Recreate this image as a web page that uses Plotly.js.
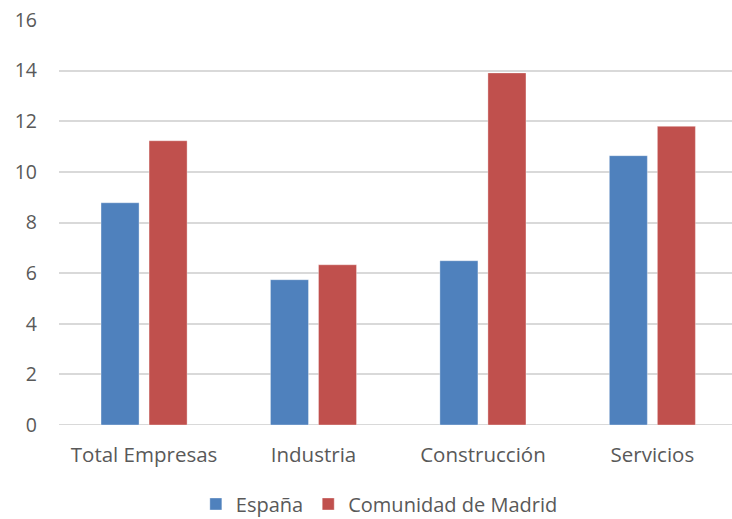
<!DOCTYPE html>
<html>
<head>
<meta charset="utf-8">
<script src="https://cdn.plot.ly/plotly-3.0.1.min.js"></script>
<style>
  html, body { margin: 0; padding: 0; background: #ffffff; overflow: hidden; }
  #chart { width: 732px; height: 519px; }
</style>
</head>
<body>
<div id="chart"></div>
<script>
// Sector categories along the x axis
const categories = ["Total Empresas", "Industria", "Construcción", "Servicios"];

// Values per series
const espana = [8.78, 5.74, 6.49, 10.64];
const madrid = [11.23, 6.33, 13.91, 11.80];

// Series names shown in the legend
const seriesNames = ["España", "Comunidad de Madrid"];

// Y axis ticks
const yTicks = [0, 2, 4, 6, 8, 10, 12, 14, 16];

const textColor = "#595959";
const gridColor = "#d9d9d9";
const fontFamily = "'Open Sans', 'Noto Sans', sans-serif";
const fontSize = 19.5;

const traces = [
  {
    type: "bar",
    name: seriesNames[0],
    x: categories,
    y: espana,
    marker: { color: "#4f81bd", line: { color: "rgba(255,255,255,0.35)", width: 1 } },
    hoverinfo: "x+y"
  },
  {
    type: "bar",
    name: seriesNames[1],
    x: categories,
    y: madrid,
    marker: { color: "#c0504d", line: { color: "rgba(255,255,255,0.35)", width: 1 } },
    hoverinfo: "x+y"
  }
];

const layout = {
  width: 732,
  height: 519,
  margin: { l: 59, r: 0, t: 20, b: 94, autoexpand: false },
  paper_bgcolor: "#ffffff",
  plot_bgcolor: "#ffffff",
  font: { family: fontFamily, size: fontSize, color: textColor },
  barmode: "group",
  bargap: 0.433,
  bargroupgap: 0.208,
  xaxis: {
    type: "category",
    range: [-0.502, 3.47],
    showgrid: false,
    zeroline: false,
    showline: false,
    ticks: "",
    automargin: false,
    ticklabelstandoff: 15,
    tickfont: { family: fontFamily, size: 20.5, color: textColor }
  },
  yaxis: {
    range: [0, 16],
    tickvals: yTicks,
    ticktext: yTicks.map(String),
    showgrid: true,
    gridcolor: gridColor,
    gridwidth: 2,
    zeroline: false,
    showline: false,
    ticks: "",
    automargin: false,
    ticklabelstandoff: 21,
    tickfont: { family: fontFamily, size: fontSize, color: textColor }
  },
  shapes: [
    {
      type: "line", xref: "paper", yref: "y",
      x0: 0, x1: 1, y0: 0, y1: 0,
      line: { color: gridColor, width: 2 },
      layer: "below"
    }
  ],
  showlegend: true,
  legend: {
    orientation: "h",
    x: 0.476,
    xanchor: "center",
    yref: "paper",
    y: -0.195,
    yanchor: "middle",
    font: { family: fontFamily, size: 20, color: textColor },
    itemclick: false,
    itemdoubleclick: false
  }
};

Plotly.newPlot("chart", traces, layout, { displayModeBar: false, staticPlot: true });
</script>
</body>
</html>
